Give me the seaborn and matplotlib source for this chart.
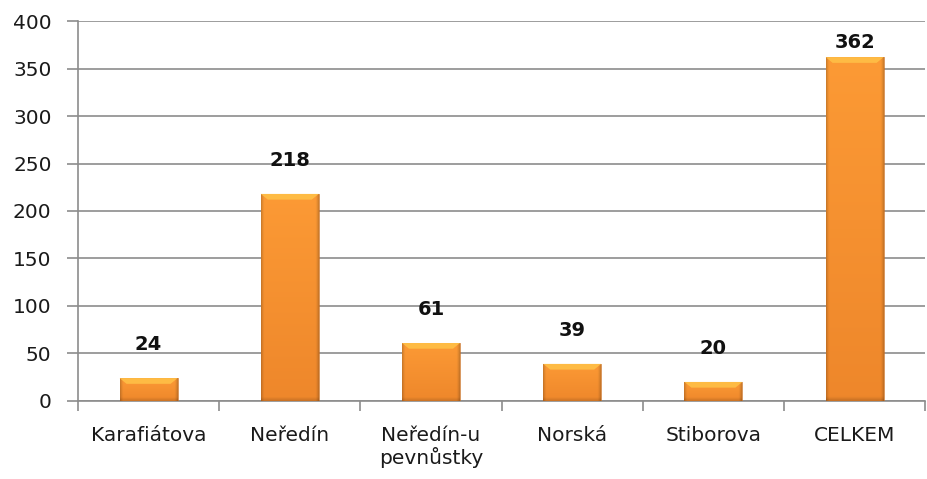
import numpy as np
import pandas as pd
import matplotlib
matplotlib.use("Agg")
import matplotlib.pyplot as plt
import seaborn as sns
from matplotlib.colors import to_rgb

# ── Data ─────────────────────────────────────────────────────────────────────
categories = ["Karafiátova", "Neředín", "Neředín-u\npevnůstky", "Norská", "Stiborova", "CELKEM"]
values = [24, 218, 61, 39, 20, 362]
y_ticks = [0, 50, 100, 150, 200, 250, 300, 350, 400]

df = pd.DataFrame({"misto": categories, "pocet": values})

sns.set_theme(style="white")
plt.rcParams["font.family"] = ["DejaVu Sans"]

fig = plt.figure(figsize=(9.28, 4.79), dpi=100)
ax = fig.add_axes([0.084, 0.163, 0.913, 0.793])

sns.barplot(data=df, x="misto", y="pocet", color="#F28C28", width=0.41,
            ax=ax, zorder=3)

# bar shading: top a little brighter, bottom a little darker, darker edges
top_c = np.array(to_rgb("#FC9A35"))
bot_c = np.array(to_rgb("#EE872B"))
nx, ny = 120, 200
xs = np.linspace(0, 1, nx)
edge = 1 - 0.2 * (np.clip(1 - np.minimum(xs, 1 - xs) / 0.06, 0, 1) ** 1.5)
for p in ax.patches:
    x0, y0 = p.get_x(), p.get_y()
    w, h = p.get_width(), p.get_height()
    ys = np.linspace(0, 1, ny)[:, None, None]            # 0 = top row
    img = top_c * (1 - ys) + bot_c * ys
    img = img * edge[None, :, None]
    bpx = min(4.0 / max(h, 1e-6), 0.3)
    yb = np.linspace(0, 1, ny)
    bottom_fac = 1 - 0.15 * np.clip((yb - (1 - bpx)) / bpx, 0, 1)
    img = img * bottom_fac[:, None, None]
    p.set_facecolor("none")
    p.set_edgecolor("#C96E20")
    p.set_linewidth(0.5)
    im = ax.imshow(np.clip(img, 0, 1), aspect="auto",
                   extent=[x0, x0 + w, y0, y0 + h], zorder=3)
    im.set_clip_path(p)
    # light bevel at the top
    cap = min(6.0, h * 0.3)
    ax.fill([x0, x0 + w, x0 + w * 0.88, x0 + w * 0.12],
            [y0 + h, y0 + h, y0 + h - cap, y0 + h - cap],
            color="#FFC248", alpha=0.85, zorder=4, linewidth=0)

ax.set_ylim(0, 400)
ax.set_xlim(-0.5, len(categories) - 0.5)
ax.set_yticks(y_ticks)
ax.yaxis.grid(True, color="#8C8C8C", linewidth=1.2)
ax.set_axisbelow(True)

for s in ["top", "right"]:
    ax.spines[s].set_visible(False)
ax.spines["left"].set_color("#8C8C8C")
ax.spines["bottom"].set_color("#8C8C8C")
ax.spines["left"].set_linewidth(1.2)
ax.spines["bottom"].set_linewidth(1.2)

ax.tick_params(axis="y", length=8, color="#8C8C8C", width=1.2, labelsize=14.5,
               labelcolor="#1A1A1A", left=True, pad=11)
ax.tick_params(axis="x", length=0, labelsize=14.5, labelcolor="#1A1A1A", pad=18)
ax.set_xticks(range(len(categories)))
ax.set_xticklabels(categories, linespacing=1.1, va="top")
ax.set_xticks(np.arange(-0.5, len(categories), 1.0), minor=True)
ax.tick_params(axis="x", which="minor", length=7, color="#8C8C8C", width=1.2,
               bottom=True)

ax.set_xlabel("")
ax.set_ylabel("")

for i, v in enumerate(values):
    ax.text(i, min(v + 25, 367), str(v), ha="center", va="bottom",
            fontsize=14, fontweight="bold", color="#111111")

fig.savefig("out.png", dpi=100)
